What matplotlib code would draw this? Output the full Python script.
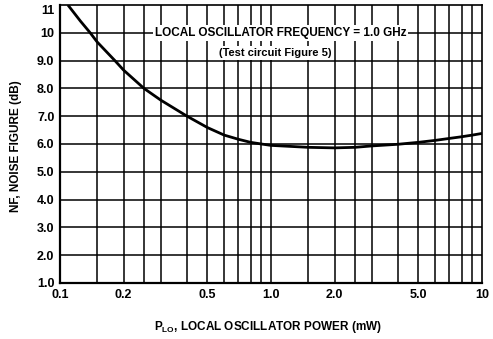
import matplotlib
matplotlib.use("Agg")
import matplotlib.pyplot as plt
from matplotlib.ticker import FixedLocator, NullLocator, FixedFormatter

plo_mw = [0.109, 0.125, 0.139, 0.15, 0.182, 0.2, 0.25, 0.3, 0.4, 0.5, 0.6, 0.7, 0.8, 0.9,
          1.0, 1.5, 2.0, 2.5, 3.0, 4.0, 5.0, 6.0, 7.0, 8.0, 9.0, 10.0]
nf_db = [11.0, 10.42, 10.0, 9.67, 9.0, 8.66, 8.0, 7.58, 7.0, 6.59, 6.32, 6.17, 6.06, 6.0,
         5.95, 5.88, 5.86, 5.88, 5.93, 5.99, 6.06, 6.13, 6.2, 6.26, 6.32, 6.38]

x_ticks = [0.1, 0.2, 0.5, 1.0, 2.0, 5.0, 10.0]
x_tick_labels = ["0.1", "0.2", "0.5", "1.0", "2.0", "5.0", "10"]
x_grid = [0.15, 0.2, 0.25, 0.3, 0.4, 0.5, 0.6, 0.7, 0.8, 0.9, 1.0, 1.5, 2.0, 2.5, 3.0, 4.0, 5.0, 6.0, 7.0, 8.0, 9.0]
y_ticks = [1, 2, 3, 4, 5, 6, 7, 8, 9, 10, 11]
y_tick_labels = ["1.0", "2.0", "3.0", "4.0", "5.0", "6.0", "7.0", "8.0", "9.0", "10", "11"]

plt.rcParams['font.family'] = ['Liberation Sans', 'DejaVu Sans']
plt.rcParams['font.weight'] = 'bold'
plt.rcParams['mathtext.fontset'] = 'custom'
plt.rcParams['mathtext.rm'] = 'Liberation Sans:bold'

fig = plt.figure(figsize=(4.93, 3.39), dpi=100)
ax = fig.add_axes([0.1217, 0.1652, 0.856, 0.8201])
ax.set_xscale('log')
ax.set_xlim(0.1, 10)
ax.set_ylim(1, 11)

for gx in x_grid:
    ax.axvline(gx, color='black', lw=1.1, zorder=1)
for gy in y_ticks[1:-1]:
    ax.axhline(gy, color='black', lw=1.1, zorder=1)

ax.plot(plo_mw, nf_db, color='black', lw=2.0, zorder=3,
        solid_capstyle='butt', solid_joinstyle='round')

ax.xaxis.set_major_locator(FixedLocator(x_ticks))
ax.xaxis.set_major_formatter(FixedFormatter(x_tick_labels))
ax.xaxis.set_minor_locator(NullLocator())
ax.set_yticks(y_ticks)
ax.set_yticklabels(y_tick_labels)
ax.tick_params(axis='both', length=0, labelsize=9, pad=4)
for lab in ax.get_xticklabels() + ax.get_yticklabels():
    lab.set_fontweight('bold')
ax.get_yticklabels()[-1].set_verticalalignment('top')

for s in ax.spines.values():
    s.set_color('black')
    s.set_linewidth(1.2)
ax.spines['left'].set_linewidth(1.6)
ax.spines['bottom'].set_linewidth(1.6)

ax.text(1.11, 10, "LOCAL OSCILLATOR FREQUENCY = 1.0 GHz", ha='center', va='center',
        fontsize=8.5, fontweight='bold', zorder=4,
        bbox=dict(facecolor='white', edgecolor='none', pad=1.5))
ax.text(1.05, 9.28, "(Test circuit Figure 5)", ha='center', va='center',
        fontsize=8, fontweight='bold', zorder=4,
        bbox=dict(facecolor='white', edgecolor='none', pad=1.5))

fig.text(0.544, 0.035, r"P$_{\mathrm{LO}}$, LOCAL OSCILLATOR POWER (mW)", ha='center', va='center',
         fontsize=8.5, fontweight='bold')
fig.text(0.032, 0.568, "NF, NOISE FIGURE (dB)", rotation=90, ha='center', va='center',
         fontsize=8.5, fontweight='bold')

fig.savefig("out.png", dpi=100)
